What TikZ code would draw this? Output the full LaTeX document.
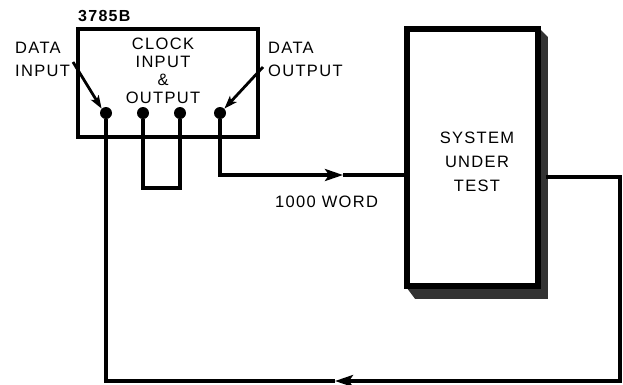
\documentclass[tikz,border=0pt]{standalone}
\usepackage{fontspec}
\newfontfamily\lblfont[LetterSpace=8]{Liberation Sans}
\usepackage{tikz}
\usetikzlibrary{arrows.meta, positioning, calc}

\begin{document}
\begin{tikzpicture}[
    x=1pt, y=-1pt,
    >={Stealth[length=18pt, width=12pt, inset=4pt]},
    wire/.style={line width=3.4pt},
    pointer/.style={line width=2.8pt, -{Stealth[length=13pt, width=9pt, inset=3pt]}},
    pinnode/.style={circle, fill=black, minimum size=12pt, inner sep=0pt},
    boxnode/.style={draw, line width=3.8pt, inner sep=0pt},
    label/.style={font=\lblfont\fontsize{16.5}{18}\selectfont, inner sep=0pt}
]
\useasboundingbox (0,0) rectangle (623,384);

% Boxes
\node[boxnode, minimum width=180pt, minimum height=108pt] (Gen) at (168,83) {};
\node[boxnode, minimum width=129pt, minimum height=255pt] (Sys) at (472.5,157.5) {};
\fill[black!80] (Sys.north east) -- ++(9,9) -- ($(Sys.south east)+(9,12)$)
    -- ($(Sys.south west)+(9,12)$) -- (Sys.south west) -- (Sys.south east) -- cycle;
\draw[line width=3.8pt] (Sys.north west) rectangle (Sys.south east);

% Box titles
\node[label, font=\lblfont\bfseries\fontsize{16}{18}\selectfont, anchor=base west] (GenName) at (78,21) {3785B};

\node[label, anchor=base west] (DinA) at (15,53) {DATA};
\node[label, anchor=base west] (DinB) at (15,76) {INPUT};

\node[label, anchor=base] (ClkA) at (163,49) {CLOCK};
\node[label, anchor=base] (ClkB) at (163,67) {INPUT};
\node[label, anchor=base] (ClkC) at (163,85) {\&};
\node[label, anchor=base] (ClkD) at (163,103) {OUTPUT};

\node[label, anchor=base west] (DoutA) at (268,53) {DATA};
\node[label, anchor=base west] (DoutB) at (268,76) {OUTPUT};

\node[label, anchor=base] (SysA) at (477,143) {SYSTEM};
\node[label, anchor=base] (SysB) at (477,167) {UNDER};
\node[label, anchor=base] (SysC) at (477,191) {TEST};

\node[label, anchor=base west] (Words) at (275,207) {1000 WORD};

% Pins: data in, clock, clock, data out
\foreach \i/\x in {1/106,2/143,3/180,4/220}
    \node[pinnode] (P\i) at (\x,113) {};

% Label pointers
\coordinate (DinTail) at (73,62);
\coordinate (DoutTail) at (263,67);
\draw[pointer] (DinTail) -- (P1.north west);
\draw[pointer] (DoutTail) -- (P4.north east);

% Clock loop
\draw[wire] (P2) -- ++(0,75) -| (P3);

% Data out -> system
\coordinate (OutArr) at (343,175);
\draw[wire,->] (P4) |- (OutArr);
\draw[wire] (OutArr) -- (OutArr -| Sys.west);

% System -> data in
\coordinate (SysOut) at (546,177);
\coordinate (LoopR) at (620,381);
\coordinate (RetArr) at (335,381);
\draw[wire,->] (SysOut) -| (LoopR) -- (RetArr);
\draw[wire] (RetArr) -- (RetArr -| P1) -- (P1);

\end{tikzpicture}
\end{document}
